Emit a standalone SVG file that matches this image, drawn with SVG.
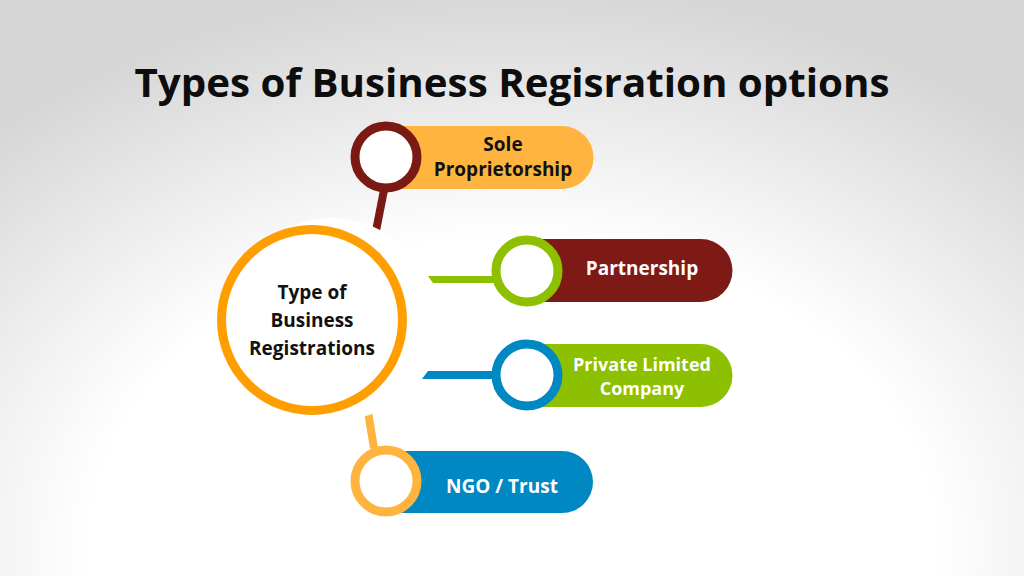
<svg xmlns="http://www.w3.org/2000/svg" width="1024" height="576" viewBox="0 0 1024 576">
<defs>
<radialGradient id="bg" cx="0.5" cy="0.95" r="0.75" gradientTransform="translate(0.5 0.95) scale(1 1.3) translate(-0.5 -0.95)">
<stop offset="0.55" stop-color="#ffffff"/><stop offset="1" stop-color="#d6d6d6"/>
</radialGradient>
<style>
text{font-family:"Open Sans","Liberation Sans",sans-serif;font-weight:bold;text-anchor:middle}
.lbl{font-size:19px}
.inner{fill:#fff;stroke-width:9}
</style>
</defs>
<rect width="1024" height="576" fill="url(#bg)"/>
<text x="512" y="97" style="font-size:39px" fill="#0d0d0d" textLength="755" lengthAdjust="spacingAndGlyphs">Types of Business Regisration options</text>
<g id="connectors">
<line x1="384" y1="190" x2="375" y2="236" stroke="#7b1a15" stroke-width="8"/>
<polygon points="428,276 495,276 495,283 433,283" fill="#8cc000"/>
<polygon points="428,371 495,371 495,379 422,379" fill="#0088c3"/>
<line x1="368" y1="412" x2="374" y2="448" stroke="#ffb43f" stroke-width="8"/>
</g>
<g id="center">
<circle cx="332" cy="320" r="102" fill="#fff"/>
<circle cx="312" cy="320" r="90.5" fill="#fff" stroke="#ff9e00" stroke-width="9"/>
<text x="312" y="299" class="lbl" fill="#111">Type of</text>
<text x="312" y="327" class="lbl" fill="#111">Business</text>
<text x="312" y="355" class="lbl" fill="#111">Registrations</text>
</g>
<g id="sole">
<path d="M386 126 H562 A31.5 31.5 0 0 1 562 189 H386 Z" fill="#ffb43f"/>
<circle cx="386" cy="157" r="31" class="inner" stroke="#7b1a15" stroke-width="10"/>
<text x="503" y="151" class="lbl" fill="#111">Sole</text>
<text x="503" y="176" class="lbl" fill="#111">Proprietorship</text>
</g>
<g id="partnership">
<path d="M527 239 H701 A31.5 31.5 0 0 1 701 302 H527 Z" fill="#7d1a16"/>
<circle cx="527" cy="271" r="31" class="inner" stroke="#8cc000" stroke-width="10"/>
<text x="642" y="275" class="lbl" fill="#fff">Partnership</text>
</g>
<g id="plc">
<path d="M527 344 H701 A31.5 31.5 0 0 1 701 407 H527 Z" fill="#8cc000"/>
<circle cx="527" cy="375" r="31" class="inner" stroke="#0088c3" stroke-width="10"/>
<text x="642" y="371" style="font-size:18px" fill="#fff">Private Limited</text>
<text x="642" y="395" style="font-size:18px" fill="#fff">Company</text>
</g>
<g id="ngo">
<path d="M386 451 H562 A31 31 0 0 1 562 513 H386 Z" fill="#0088c3"/>
<circle cx="386" cy="481" r="31" class="inner" stroke="#ffb43f" stroke-width="10"/>
<text x="502" y="493" class="lbl" fill="#fff">NGO / Trust</text>
</g>
</svg>
